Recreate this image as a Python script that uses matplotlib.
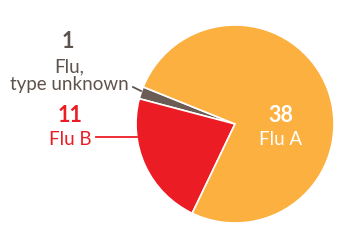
import matplotlib.pyplot as plt

labels = ['Flu,', 'type unknown', 'Flu B', 'Flu A']
counts = [1, 11, 38]
colors = ['#6b5d55', '#ec1c24', '#fbb040']
text_colors = ['#5f534d', '#ec1c24', 'white']

plt.rcParams['font.family'] = ['Lato', 'DejaVu Sans']

fig = plt.figure(figsize=(3.5, 2.5), dpi=100)
ax = fig.add_axes([0, 0, 1, 1])

# pie in pixel coords (y axis flipped, so go clockwise)
ax.pie(counts, colors=colors, center=(235, 124), radius=99,
       startangle=-158, counterclock=False,
       wedgeprops=dict(edgecolor='white', linewidth=1.2), frame=True)
ax.set_xlim(0, 350)
ax.set_ylim(250, 0)
ax.set_aspect('equal')
ax.axis('off')

num_kw = dict(ha='center', va='baseline', fontsize=15.5, fontweight='bold')
lab_kw = dict(ha='center', va='baseline', fontsize=13.5)

# unknown
ax.text(68, 48, str(counts[0]), color=text_colors[0], **num_kw)
ax.text(69, 72.5, labels[0], color=text_colors[0], **lab_kw)
ax.text(69, 90, labels[1], color=text_colors[0], **lab_kw)
ax.plot([133, 141], [87, 91], color=text_colors[0], lw=1.3)

# flu B
ax.text(70, 121.5, str(counts[1]), color=text_colors[1], **num_kw)
ax.text(70, 145, labels[2], color=text_colors[1], **lab_kw)
ax.plot([96, 137], [136.5, 136.5], color=text_colors[1], lw=1.3)

# flu A
ax.text(281, 122, str(counts[2]), color=text_colors[2], **num_kw)
ax.text(281, 145, labels[3], color=text_colors[2], **lab_kw)

fig.savefig('out.png', dpi=100)
